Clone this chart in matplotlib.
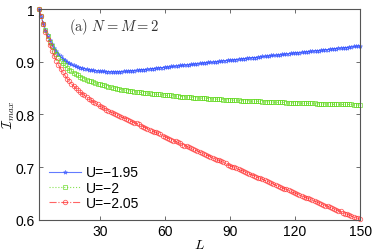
import matplotlib
matplotlib.use("Agg")
import matplotlib.pyplot as plt

L = list(range(2, 151))

# U = -1.95
blue = [
    1.000, .987, .973, .961, .950, .941, .933, .926, .920, .915,
    .910, .906, .903, .900, .897, .895, .893, .891, .890, .889,
    .888, .887, .886, .885, .884, .884, .883, .883, .882, .882,
    .882, .881, .881, .881, .881, .881, .881, .881, .881, .882,
    .882, .882, .883, .883, .883, .884, .884, .885, .885, .885,
    .886, .886, .887, .887, .888, .888, .889, .889, .890, .890,
    .890, .891, .891, .892, .892, .893, .893, .894, .894, .894,
    .895, .895, .896, .896, .897, .897, .898, .898, .899, .899,
    .899, .900, .900, .901, .901, .902, .902, .903, .903, .903,
    .904, .904, .905, .905, .906, .906, .907, .907, .908, .908,
    .908, .909, .909, .910, .910, .911, .911, .912, .912, .912,
    .913, .913, .914, .914, .915, .915, .916, .916, .917, .917,
    .917, .918, .918, .919, .919, .920, .920, .921, .921, .921,
    .922, .922, .923, .923, .924, .924, .925, .925, .926, .926,
    .926, .927, .927, .928, .928, .929, .929, .930, .930,
]

# U = -2
green = [
    1.000, .987, .972, .960, .948, .938, .929, .921, .914, .908,
    .902, .897, .893, .889, .885, .882, .879, .876, .874, .872,
    .870, .868, .866, .864, .863, .861, .860, .858, .857, .856,
    .855, .854, .853, .852, .851, .850, .849, .848, .847, .847,
    .846, .845, .845, .844, .843, .843, .842, .842, .841, .841,
    .840, .840, .839, .839, .838, .838, .838, .837, .837, .836,
    .836, .836, .835, .835, .835, .834, .834, .834, .833, .833,
    .833, .832, .832, .832, .831, .831, .831, .831, .830, .830,
    .830, .829, .829, .829, .829, .828, .828, .828, .828, .827,
    .827, .827, .827, .826, .826, .826, .826, .826, .825, .825,
    .825, .825, .825, .824, .824, .824, .824, .824, .823, .823,
    .823, .823, .823, .823, .822, .822, .822, .822, .822, .822,
    .822, .821, .821, .821, .821, .821, .821, .821, .820, .820,
    .820, .820, .820, .820, .820, .820, .819, .819, .819, .819,
    .819, .819, .819, .819, .819, .818, .818, .818, .818,
]

# U = -2.05
red = [
    1.000, .986, .971, .957, .944, .932, .921, .911, .902, .894,
    .887, .880, .874, .868, .863, .858, .854, .850, .846, .842,
    .839, .836, .833, .830, .827, .824, .821, .819, .816, .814,
    .812, .809, .807, .805, .803, .801, .799, .797, .795, .794,
    .792, .790, .788, .786, .784, .783, .781, .779, .777, .775,
    .773, .771, .769, .767, .766, .764, .762, .760, .758, .756,
    .754, .752, .750, .749, .747, .745, .743, .741, .740, .738,
    .736, .734, .732, .731, .729, .727, .725, .723, .722, .720,
    .718, .716, .714, .713, .711, .709, .707, .705, .703, .701,
    .700, .698, .696, .694, .693, .691, .689, .687, .686, .684,
    .682, .680, .679, .677, .675, .673, .672, .670, .668, .666,
    .665, .663, .661, .659, .658, .656, .654, .652, .651, .649,
    .647, .646, .644, .642, .641, .639, .637, .636, .634, .632,
    .631, .629, .627, .626, .624, .622, .621, .619, .617, .616,
    .614, .612, .611, .609, .607, .606, .604, .603, .601,
]

labels = ["U=\u22121.95", "U=\u22122", "U=\u22122.05"]

plt.rcParams["font.family"] = ["Liberation Sans", "DejaVu Sans"]
plt.rcParams["mathtext.fontset"] = "cm"

fig = plt.figure(figsize=(3.74, 2.51), dpi=100)
ax = fig.add_axes([0.104, 0.12, 0.859, 0.84])

ax.plot(L, blue, "-", marker="*", color="#2f4fff", mfc="none", ms=3.0,
        mew=0.6, lw=0.8, alpha=0.75, label=labels[0], clip_on=False)
ax.plot(L, green, ":", marker="s", color="#5fd81a", mfc="none", ms=2.8,
        mew=0.6, lw=0.8, alpha=0.75, label=labels[1], clip_on=False)
ax.plot(L, red, "-.", marker="o", color="#ff3030", mfc="none", ms=3.2,
        mew=0.6, lw=0.8, alpha=0.75, label=labels[2], clip_on=False)

ax.set_xlim(2, 150)
ax.set_ylim(0.6, 1.0)
ax.set_xticks([30, 60, 90, 120, 150])
ax.set_yticks([0.6, 0.7, 0.8, 0.9, 1.0])
ax.set_yticklabels(["0.6", "0.7", "0.8", "0.9", "1"])
ax.tick_params(direction="in", length=3, width=0.6, labelsize=10,
               top=True, right=True, color="#555555", pad=3)
for s in ax.spines.values():
    s.set_color("#555555")
    s.set_linewidth(0.8)

ax.set_xlabel("$L$", fontsize=10, labelpad=-1)
ax.set_ylabel(r"$\mathcal{I}_{max}$", fontsize=9.5)
ax.yaxis.set_label_coords(-0.068, 0.5)
ax.text(0.095, 0.92, r"$\mathrm{(a)}\ N=M=2$", transform=ax.transAxes,
        fontsize=10.5, color="#333333", va="center")

ax.legend(loc="lower left", frameon=False, fontsize=10, handlelength=2.3,
          handletextpad=0.35, labelspacing=0.1, borderaxespad=0.3)

fig.savefig("out.png", dpi=100)
